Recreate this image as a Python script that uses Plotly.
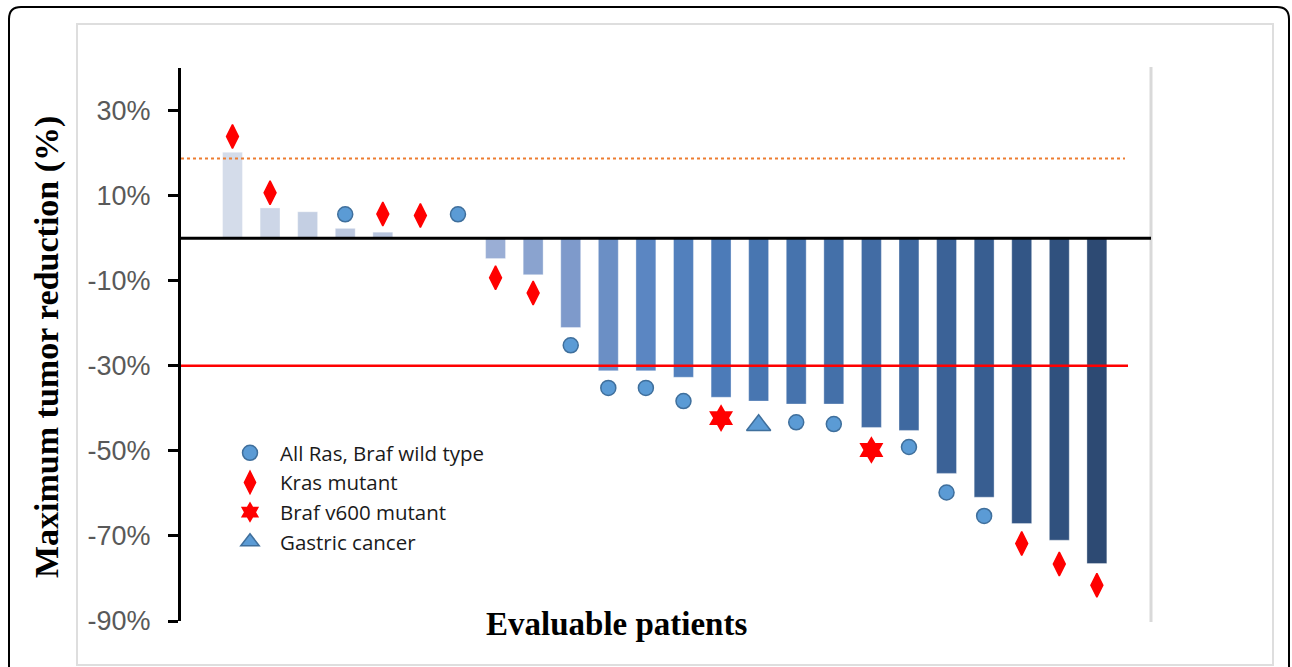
import plotly.graph_objects as go

# ---------------- data ----------------
patients = list(range(1, 25))
bar_values = [20.2, 7.1, 6.2, 2.3, 1.4, None, None, -4.8, -8.6, -21.0, -31.2, -31.2,
              -32.7, -37.4, -38.3, -39.0, -39.0, -44.5, -45.2, -55.3, -60.9, -67.1,
              -71.0, -76.5]
marker_values = [23.9, 10.7, None, 5.6, 5.7, 5.3, 5.6, -9.3, -12.9, -25.2, -35.2, -35.2,
                 -38.3, -42.3, -44.0, -43.3, -43.7, -49.8, -49.1, -59.8, -65.3, -71.8,
                 -76.6, -81.6]
marker_types = ["Kras", "Kras", None, "WT", "Kras", "Kras", "WT", "Kras", "Kras", "WT",
                "WT", "WT", "WT", "Braf", "Gastric", "WT", "WT", "Braf", "WT", "WT",
                "WT", "Kras", "Kras", "Kras"]
type_labels = {
    "WT": "All Ras, Braf wild type",
    "Kras": "Kras mutant",
    "Braf": "Braf v600 mutant",
    "Gastric": "Gastric cancer",
}
tick_values = [30, 10, -10, -30, -50, -70, -90]
tick_labels = ["30%", "10%", "-10%", "-30%", "-50%", "-70%", "-90%"]
progression_line = 18.7
response_line = -30

# ---------------- styles ----------------
bar_colors = ["#d4dcea", "#cdd6e7", "#c4cfe3", "#bcc8df", "#b8c5de", "#ffffff", "#ffffff",
              "#9aaed5", "#8aa3cf", "#7e9acb", "#6b8fc5", "#5b86c2", "#5280bd", "#4c7bb8",
              "#4876b1", "#4673ad", "#4470a9", "#426ca4", "#3f69a0", "#3b6297", "#385e91",
              "#335686", "#30517e", "#2d4a73"]
marker_styles = {
    "WT": dict(symbol="circle", size=15, color="#5b9bd5", line=dict(color="#3f6f9c", width=1.5)),
    "Kras": dict(symbol="diamond-tall", size=17, color="#ff0000", line=dict(color="#ff0000", width=1.5)),
    "Braf": dict(symbol="hexagram", size=21, color="#ff0000", line=dict(color="#ff0000", width=0)),
    "Gastric": dict(symbol="triangle-up", size=21, color="#5b9bd5", line=dict(color="#3f6f9c", width=1.5)),
}

W, H = 1292, 667
L, R, T, B = 181, 141, 68, 46
PW, PH = W - L - R, H - T - B


def px(x):
    return (x - L) / PW


def py(y):
    return (H - B - y) / PH


fig = go.Figure()
fig.add_trace(go.Bar(
    x=patients, y=bar_values, width=0.53,
    marker=dict(color=bar_colors, line=dict(color="rgba(255,255,255,0.35)", width=1)),
    showlegend=False, hoverinfo="skip",
))

for key in ["WT", "Kras", "Braf", "Gastric"]:
    xs = [p for p, t in zip(patients, marker_types) if t == key]
    ys = [v for v, t in zip(marker_values, marker_types) if t == key]
    fig.add_trace(go.Scatter(
        x=xs, y=ys, mode="markers", name=type_labels[key],
        marker=marker_styles[key],
    ))

shapes = [
    dict(type="line", xref="paper", yref="y", x0=0, x1=1, y0=0, y1=0,
         line=dict(color="black", width=3), layer="above"),
    dict(type="line", xref="paper", yref="y", x0=0, x1=px(1128), y0=response_line, y1=response_line,
         line=dict(color="#ff0000", width=2.5), layer="above"),
    dict(type="line", xref="paper", yref="y", x0=0, x1=px(1125), y0=progression_line, y1=progression_line,
         line=dict(color="#ed7d31", width=2, dash="dot"), layer="above"),
    dict(type="line", xref="paper", yref="paper", x0=px(1151), x1=px(1151), y0=py(622), y1=py(67),
         line=dict(color="#d9d9d9", width=3), layer="below"),
    dict(type="rect", xref="paper", yref="paper", x0=px(77), x1=px(1273), y0=py(665), y1=py(24),
         line=dict(color="#dedede", width=2), layer="below"),
]
x0, x1, y0, y1, r = 9, 1289, 7, 680, 12
path = (f"M {px(x0)},{py(y1)} L {px(x0)},{py(y0 + r)} Q {px(x0)},{py(y0)} {px(x0 + r)},{py(y0)} "
        f"L {px(x1 - r)},{py(y0)} Q {px(x1)},{py(y0)} {px(x1)},{py(y0 + r)} L {px(x1)},{py(y1)}")
shapes.append(dict(type="path", xref="paper", yref="paper", path=path,
                   line=dict(color="black", width=2), layer="below"))

fig.update_layout(
    width=W, height=H,
    margin=dict(l=L, r=R, t=T, b=B, autoexpand=False),
    paper_bgcolor="white", plot_bgcolor="white",
    shapes=shapes,
    xaxis=dict(visible=False, range=[-0.37, 25.44]),
    yaxis=dict(
        range=[-90, 40], tickvals=tick_values, ticktext=tick_labels,
        showgrid=False, zeroline=False, showline=True, linecolor="black", linewidth=3,
        ticks="outside", ticklen=10, tickwidth=3, tickcolor="black",
        ticklabelstandoff=12,
        tickfont=dict(family="Liberation Sans, Arial", size=27, color="#595959"),
    ),
    legend=dict(
        x=px(220), y=py(433), xanchor="left", yanchor="top",
        bgcolor="rgba(0,0,0,0)", itemwidth=50, tracegroupgap=0,
        font=dict(family="Open Sans, Lato, sans-serif", size=20.5, color="#1a1a1a"),
    ),
    annotations=[
        dict(text="Maximum tumor reduction (%)", xref="paper", yref="paper",
             x=px(47), y=py(347), textangle=-90, showarrow=False, xanchor="center", yanchor="middle",
             font=dict(family="Liberation Serif, Times New Roman", size=34, color="black", weight="bold")),
        dict(text="Evaluable patients", xref="paper", yref="paper",
             x=px(616), y=py(624), showarrow=False, xanchor="center", yanchor="middle",
             font=dict(family="Liberation Serif, Times New Roman", size=33, color="black", weight="bold")),
    ],
)

fig.write_html("out.html", config={"displayModeBar": False},
               post_script="document.body.style.margin='0';document.body.style.overflow='hidden';")
